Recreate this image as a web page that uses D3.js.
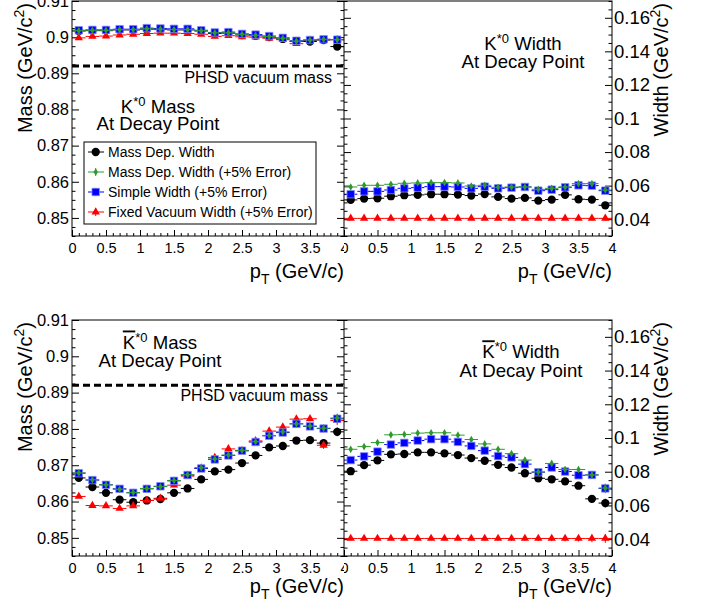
<!DOCTYPE html>
<html>
<head>
<meta charset="utf-8">
<script src="https://cdn.jsdelivr.net/npm/d3@7"></script>
<style>
  body { margin: 0; background: #fff; }
  svg { display: block; font-family: "Liberation Sans", Arial, Helvetica, sans-serif; }
</style>
</head>
<body>
<svg id="chart" width="704" height="607"></svg>
<script>
// pT bin centres (GeV/c), bins are 0.2 wide
const ptBins = [0.1, 0.3, 0.5, 0.7, 0.9, 1.1, 1.3, 1.5, 1.7, 1.9, 2.1, 2.3, 2.5, 2.7, 2.9, 3.1, 3.3, 3.5, 3.7, 3.9]
const ptHalfWidth = 0.1

const ptTicks = [0, 0.5, 1, 1.5, 2, 2.5, 3, 3.5, 4]
const massTicks = [0.85, 0.86, 0.87, 0.88, 0.89, 0.9, 0.91]
const widthTicks = [0.04, 0.06, 0.08, 0.1, 0.12, 0.14, 0.16]
const phsdVacuumMass = 0.892

// K*0 mass at decay point
const kMassDep = [0.9017, 0.9018, 0.9018, 0.9020, 0.9020, 0.9022, 0.9021, 0.9020, 0.9020, 0.9017, 0.9010, 0.9011, 0.9006, 0.9004, 0.9000, 0.8995, 0.8988, 0.8988, 0.8992, 0.8974]
const kMassDep5 = [0.9018, 0.9019, 0.9019, 0.9021, 0.9021, 0.9023, 0.9022, 0.9021, 0.9021, 0.9018, 0.9012, 0.9012, 0.9008, 0.9005, 0.9002, 0.8997, 0.8989, 0.8992, 0.8994, 0.8993]
const kMassSimple = [0.9019, 0.9020, 0.9020, 0.9022, 0.9022, 0.9025, 0.9024, 0.9023, 0.9023, 0.9019, 0.9013, 0.9014, 0.9009, 0.9007, 0.9003, 0.8998, 0.8990, 0.8992, 0.8994, 0.8993]
const kMassFixed = [0.8998, 0.9002, 0.9003, 0.9006, 0.9008, 0.9010, 0.9011, 0.9011, 0.9010, 0.9008, 0.9002, 0.9004, 0.9001, 0.9000, 0.8997, 0.8993, 0.8982, 0.8991, 0.8993, 0.8993]
const kMassErr = [0.0003, 0.0003, 0.0003, 0.0003, 0.0003, 0.0003, 0.0003, 0.0003, 0.0003, 0.0003, 0.0003, 0.0004, 0.0004, 0.0004, 0.0004, 0.0005, 0.0005, 0.0006, 0.0007, 0.0009]

// K*0 width at decay point
const kWidthDep = [0.0515, 0.0523, 0.0525, 0.0537, 0.0543, 0.0545, 0.0549, 0.0549, 0.0547, 0.0541, 0.0550, 0.0533, 0.0523, 0.0527, 0.0511, 0.0517, 0.0545, 0.0519, 0.0517, 0.0483]
const kWidthDep5 = [0.0592, 0.0602, 0.0602, 0.0608, 0.0614, 0.0616, 0.0618, 0.0618, 0.0616, 0.0598, 0.0602, 0.0590, 0.0592, 0.0592, 0.0578, 0.0584, 0.0592, 0.0612, 0.0612, 0.0574]
const kWidthSimple = [0.0549, 0.0566, 0.0566, 0.0574, 0.0584, 0.0588, 0.0594, 0.0594, 0.0592, 0.0584, 0.0594, 0.0584, 0.0588, 0.0592, 0.0570, 0.0576, 0.0590, 0.0602, 0.0600, 0.0570]
const kWidthFixed = [0.0405, 0.0405, 0.0405, 0.0405, 0.0405, 0.0405, 0.0405, 0.0405, 0.0405, 0.0405, 0.0405, 0.0405, 0.0405, 0.0405, 0.0405, 0.0405, 0.0405, 0.0405, 0.0405, 0.0405]
const kWidthErr = [0.0006, 0.0006, 0.0006, 0.0006, 0.0006, 0.0006, 0.0006, 0.0006, 0.0007, 0.0007, 0.0007, 0.0008, 0.0008, 0.0008, 0.0009, 0.0009, 0.0010, 0.0010, 0.0011, 0.0012]

// anti-K*0 mass at decay point
const kbarMassDep = [0.8665, 0.8640, 0.8624, 0.8605, 0.8598, 0.8603, 0.8607, 0.8624, 0.8636, 0.8661, 0.8683, 0.8688, 0.8706, 0.8727, 0.8749, 0.8753, 0.8768, 0.8769, 0.8761, 0.8792]
const kbarMassDep5 = [0.8679, 0.8660, 0.8646, 0.8634, 0.8625, 0.8636, 0.8641, 0.8658, 0.8674, 0.8693, 0.8717, 0.8728, 0.8741, 0.8765, 0.8782, 0.8792, 0.8814, 0.8808, 0.8802, 0.8830]
const kbarMassSimple = [0.8678, 0.8659, 0.8646, 0.8635, 0.8624, 0.8635, 0.8642, 0.8657, 0.8673, 0.8691, 0.8716, 0.8727, 0.8740, 0.8764, 0.8781, 0.8790, 0.8814, 0.8807, 0.8801, 0.8828]
const kbarMassFixed = [0.8614, 0.8589, 0.8588, 0.8581, 0.8588, 0.8603, 0.8609, 0.8645, 0.8670, 0.8692, 0.8721, 0.8745, 0.8740, 0.8767, 0.8794, 0.8805, 0.8827, 0.8828, 0.8755, 0.8823]
const kbarMassErr = [0.0003, 0.0003, 0.0003, 0.0003, 0.0003, 0.0003, 0.0003, 0.0003, 0.0004, 0.0004, 0.0004, 0.0004, 0.0005, 0.0005, 0.0005, 0.0006, 0.0006, 0.0007, 0.0010, 0.0012]

// anti-K*0 width at decay point
const kbarWidthDep = [0.0803, 0.0839, 0.0867, 0.0903, 0.0905, 0.0915, 0.0915, 0.0909, 0.0899, 0.0881, 0.0865, 0.0841, 0.0825, 0.0791, 0.0761, 0.0755, 0.0743, 0.0717, 0.0639, 0.0614]
const kbarWidthDep5 = [0.0933, 0.0949, 0.0973, 0.1019, 0.1021, 0.1029, 0.1031, 0.1031, 0.1017, 0.0991, 0.0965, 0.0933, 0.0907, 0.0869, 0.0799, 0.0849, 0.0813, 0.0813, 0.0781, 0.0703]
const kbarWidthSimple = [0.0869, 0.0891, 0.0919, 0.0961, 0.0971, 0.0985, 0.0993, 0.0993, 0.0977, 0.0953, 0.0925, 0.0893, 0.0885, 0.0845, 0.0797, 0.0825, 0.0801, 0.0779, 0.0781, 0.0701]
const kbarWidthFixed = [0.0404, 0.0404, 0.0404, 0.0404, 0.0404, 0.0404, 0.0404, 0.0404, 0.0404, 0.0404, 0.0404, 0.0404, 0.0404, 0.0404, 0.0404, 0.0404, 0.0404, 0.0404, 0.0404, 0.0404]
const kbarWidthErr = [0.0010, 0.0010, 0.0010, 0.0011, 0.0011, 0.0011, 0.0011, 0.0012, 0.0012, 0.0012, 0.0013, 0.0013, 0.0014, 0.0015, 0.0015, 0.0016, 0.0017, 0.0018, 0.0022, 0.0026]

const SERIES = {
  dep: { label: 'Mass Dep. Width', color: '#000000', symbol: d3.symbolCircle, size: 54 },
  dep5: { label: 'Mass Dep. Width (+5% Error)', color: '#2e9a2e', symbol: d3.symbolDiamond, size: 17 },
  simple: { label: 'Simple Width (+5% Error)', color: '#0000ff', symbol: d3.symbolSquare, size: 56, halo: '#8a8aff' },
  fixed: { label: 'Fixed Vacuum Width (+5% Error)', color: '#ff0000', symbol: d3.symbolTriangle, size: 30 }
}
const LEGEND_ORDER = ['dep', 'dep5', 'simple', 'fixed']
const DRAW_ORDER = ['dep', 'fixed', 'simple', 'dep5']

const PANELS = [
  {
    id: 'tl',
    pad: { x: 0, y: 0, width: 344, height: 300 },
    frame: { left: 72, right: 344, top: 1, bottom: 236 },
    yDomain: [0.845, 0.91], yMajor: massTicks, yMinorStep: 0.0025,
    side: 'left', quantity: 'Mass',
    values: { dep: kMassDep, dep5: kMassDep5, simple: kMassSimple, fixed: kMassFixed },
    errors: kMassErr,
    heading: { bar: false, x: 158, y: 112.5, gap: 17.5 },
    vacuumLabel: { x: 332, dy: 17 },
    legend: { x: 84, y: 142, width: 232, height: 82 },
    xTitleY: 277.5
  },
  {
    id: 'tr',
    pad: { x: 344, y: 0, width: 360, height: 300 },
    frame: { left: 344, right: 612, top: 1, bottom: 236 },
    yDomain: [0.03, 0.17], yMajor: widthTicks, yMinorStep: 0.005,
    side: 'right', quantity: 'Width',
    values: { dep: kWidthDep, dep5: kWidthDep5, simple: kWidthSimple, fixed: kWidthFixed },
    errors: kWidthErr,
    heading: { bar: false, x: 523, y: 50, gap: 18.3 },
    xTitleY: 277.5
  },
  {
    id: 'bl',
    pad: { x: 0, y: 300, width: 344, height: 307 },
    frame: { left: 72, right: 344, top: 320, bottom: 556 },
    yDomain: [0.845, 0.91], yMajor: massTicks, yMinorStep: 0.0025,
    side: 'left', quantity: 'Mass',
    values: { dep: kbarMassDep, dep5: kbarMassDep5, simple: kbarMassSimple, fixed: kbarMassFixed },
    errors: kbarMassErr,
    heading: { bar: true, x: 160, y: 348.5, gap: 18.2 },
    vacuumLabel: { x: 328, dy: 16 },
    xTitleY: 592.5
  },
  {
    id: 'br',
    pad: { x: 344, y: 300, width: 360, height: 307 },
    frame: { left: 344, right: 612, top: 320, bottom: 556 },
    yDomain: [0.03, 0.17], yMajor: widthTicks, yMinorStep: 0.005,
    side: 'right', quantity: 'Width',
    values: { dep: kbarWidthDep, dep5: kbarWidthDep5, simple: kbarWidthSimple, fixed: kbarWidthFixed },
    errors: kbarWidthErr,
    heading: { bar: true, x: 521, y: 358.3, gap: 19 },
    xTitleY: 592.5
  }
]

const svg = d3.select('#chart')
const fmt = d => String(+d.toFixed(3))

PANELS.forEach(renderPanel)

function renderPanel (panel) {
  const { pad, frame } = panel

  svg.append('clipPath')
    .attr('id', `clip-${panel.id}`)
    .append('rect')
    .attr('x', pad.x).attr('y', pad.y)
    .attr('width', pad.width).attr('height', pad.height)

  const g = svg.append('g').attr('clip-path', `url(#clip-${panel.id})`)

  const x = d3.scaleLinear().domain([0, 4]).range([frame.left, frame.right])
  const y = d3.scaleLinear().domain(panel.yDomain).range([frame.bottom, frame.top])

  renderAxes(g, panel, x, y)

  if (panel.vacuumLabel) {
    g.append('line')
      .attr('x1', frame.left).attr('x2', frame.right)
      .attr('y1', y(phsdVacuumMass)).attr('y2', y(phsdVacuumMass))
      .attr('stroke', '#000').attr('stroke-width', 3)
      .attr('stroke-dasharray', '7,4')
    g.append('text')
      .attr('x', panel.vacuumLabel.x)
      .attr('y', y(phsdVacuumMass) + panel.vacuumLabel.dy)
      .attr('text-anchor', 'end')
      .attr('font-size', 16)
      .text('PHSD vacuum mass')
  }

  renderHeading(g, panel)

  DRAW_ORDER.forEach(key => renderSeries(g, key, panel.values[key], panel.errors, x, y))

  g.append('rect')
    .attr('x', frame.left).attr('y', frame.top)
    .attr('width', frame.right - frame.left).attr('height', frame.bottom - frame.top)
    .attr('fill', 'none').attr('stroke', '#000').attr('stroke-width', 1)

  if (panel.legend) renderLegend(g, panel.legend)
}

function renderAxes (g, panel, x, y) {
  const { frame } = panel
  const xMinor = d3.range(0, 4.0001, 0.1).filter(v => ptTicks.indexOf(+v.toFixed(2)) < 0)
  const yMinor = d3.range(panel.yDomain[0], panel.yDomain[1] + 1e-9, panel.yMinorStep)
    .filter(v => panel.yMajor.every(t => Math.abs(t - v) > 1e-6))

  const addAxis = (axis, tx, ty, fontSize) => {
    const a = g.append('g')
      .attr('transform', `translate(${tx},${ty})`)
      .call(axis)
    a.select('.domain').remove()
    a.selectAll('line').attr('stroke', '#000')
    a.attr('font-family', null).attr('font-size', fontSize)
    a.selectAll('text').attr('fill', '#000')
    return a
  }

  // x axis
  addAxis(d3.axisBottom(x).tickValues(ptTicks).tickSize(-6).tickPadding(7).tickFormat(fmt), 0, frame.bottom, 14.5)
  addAxis(d3.axisBottom(x).tickValues(xMinor).tickSize(-3).tickFormat(''), 0, frame.bottom, 14.5)

  if (panel.side === 'left') {
    addAxis(d3.axisLeft(y).tickValues(panel.yMajor).tickSize(-7).tickPadding(3).tickFormat(fmt), frame.left, 0, 16.5)
    addAxis(d3.axisLeft(y).tickValues(yMinor).tickSize(-3.5).tickFormat(''), frame.left, 0, 16.5)
    addAxis(d3.axisRight(y).tickValues(panel.yMajor).tickSize(-7).tickFormat(''), frame.right, 0, 16.5)
    addAxis(d3.axisRight(y).tickValues(yMinor).tickSize(-3.5).tickFormat(''), frame.right, 0, 16.5)
  } else {
    addAxis(d3.axisLeft(y).tickValues(panel.yMajor).tickSize(-7).tickFormat(''), frame.left, 0, 18.5)
    addAxis(d3.axisLeft(y).tickValues(yMinor).tickSize(-3.5).tickFormat(''), frame.left, 0, 18.5)
    addAxis(d3.axisRight(y).tickValues(panel.yMajor).tickSize(-7).tickPadding(2).tickFormat(fmt), frame.right, 0, 18.5)
    addAxis(d3.axisRight(y).tickValues(yMinor).tickSize(-3.5).tickFormat(''), frame.right, 0, 18.5)
  }

  // x title
  const xt = g.append('text')
    .attr('x', frame.right).attr('y', panel.xTitleY)
    .attr('text-anchor', 'end').attr('font-size', 20)
  xt.append('tspan').text('p')
  xt.append('tspan').attr('font-size', 14).attr('dy', 6).text('T')
  xt.append('tspan').attr('dy', -6).text(' (GeV/c)')

  // y title, right aligned to the top of the frame
  const titleX = panel.side === 'left' ? 31.5 : 667.5
  const yt = g.append('text')
    .attr('transform', `translate(${titleX},${frame.top + 2}) rotate(-90)`)
    .attr('text-anchor', 'end').attr('font-size', 20)
  yt.append('tspan').text(`${panel.quantity} (GeV/c`)
  yt.append('tspan').attr('font-size', 14).attr('dy', -8).text('2')
  yt.append('tspan').attr('dy', 8).text(')')
}

function renderHeading (g, panel) {
  const h = panel.heading
  const line1 = g.append('text')
    .attr('x', h.x).attr('y', h.y)
    .attr('text-anchor', 'middle').attr('font-size', 18.6)
  const k = line1.append('tspan').text('K')
  if (h.bar) k.style('text-decoration', 'overline')
  line1.append('tspan').attr('font-size', 13).attr('dy', -7).text('*0')
  line1.append('tspan').attr('dy', 7).text(` ${panel.quantity}`)

  g.append('text')
    .attr('x', h.x).attr('y', h.y + h.gap)
    .attr('text-anchor', 'middle').attr('font-size', 18.6)
    .text('At Decay Point')
}

function renderSeries (g, key, values, errors, x, y) {
  const s = SERIES[key]
  const pts = ptBins.map((pt, i) => ({ pt, v: values[i], e: errors[i] }))
  const sg = g.append('g').attr('class', `series-${key}`)

  sg.selectAll('line.xerr')
    .data(pts).enter().append('line')
    .attr('class', 'xerr')
    .attr('x1', d => x(d.pt - ptHalfWidth)).attr('x2', d => x(d.pt + ptHalfWidth))
    .attr('y1', d => y(d.v)).attr('y2', d => y(d.v))
    .attr('stroke', s.color).attr('stroke-width', 1)

  sg.selectAll('line.yerr')
    .data(pts).enter().append('line')
    .attr('class', 'yerr')
    .attr('x1', d => x(d.pt)).attr('x2', d => x(d.pt))
    .attr('y1', d => y(d.v - d.e)).attr('y2', d => y(d.v + d.e))
    .attr('stroke', s.color).attr('stroke-width', 1)

  sg.selectAll('path.marker')
    .data(pts).enter().append('path')
    .attr('class', 'marker')
    .attr('transform', d => `translate(${x(d.pt)},${y(d.v)})`)
    .attr('d', d3.symbol().type(s.symbol).size(s.size))
    .attr('fill', s.color)
    .attr('stroke', s.halo || 'none')
    .attr('stroke-width', s.halo ? 0.8 : 0)
}

function renderLegend (g, box) {
  const lg = g.append('g')
  lg.append('rect')
    .attr('x', box.x).attr('y', box.y)
    .attr('width', box.width).attr('height', box.height)
    .attr('fill', '#fff').attr('stroke', '#000').attr('stroke-width', 1)

  const rowY = d3.scalePoint().domain(LEGEND_ORDER).range([box.y + 10, box.y + 70])
  const mx = box.x + 11.7

  LEGEND_ORDER.forEach(key => {
    const s = SERIES[key]
    const cy = rowY(key)
    lg.append('line')
      .attr('x1', box.x + 4).attr('x2', box.x + 20)
      .attr('y1', cy).attr('y2', cy)
      .attr('stroke', s.color)
    lg.append('line')
      .attr('x1', mx).attr('x2', mx)
      .attr('y1', cy - 4).attr('y2', cy + 4)
      .attr('stroke', s.color)
    lg.append('path')
      .attr('transform', `translate(${mx},${cy})`)
      .attr('d', d3.symbol().type(s.symbol).size(s.size))
      .attr('fill', s.color)
      .attr('stroke', s.halo || 'none')
      .attr('stroke-width', s.halo ? 0.8 : 0)
    lg.append('text')
      .attr('x', box.x + 24).attr('y', cy + 5)
      .attr('font-size', 14)
      .text(s.label)
  })
}
</script>
</body>
</html>
